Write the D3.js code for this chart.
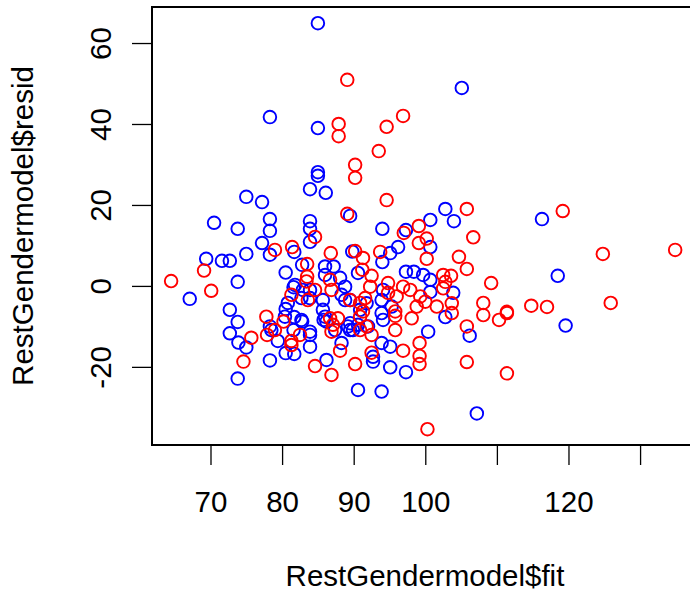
<!DOCTYPE html>
<html>
<head>
<meta charset="utf-8">
<script src="https://cdn.jsdelivr.net/npm/d3@7"></script>
<style>
  body { margin: 0; background: #fff; }
  svg { display: block; }
  text { font-family: "Liberation Sans", Arial, sans-serif; }
</style>
</head>
<body>
<svg id="chart" width="690" height="591"></svg>
<script>
// fitted values / residuals, blue group
var blueFit = [85.0, 105.1, 78.3, 85.0, 85.0, 85.0, 83.9, 86.1, 75.0, 77.2, 102.8, 89.5, 78.3, 116.3, 83.9,
  104.0, 100.7, 70.5, 73.8, 83.9, 94.0, 97.3, 78.3, 83.9, 77.2, 96.2, 100.7, 81.7, 89.8, 95.1,
  78.3, 75.0, 69.4, 71.6, 72.7, 94.0, 82.8, 86.0, 87.2, 90.6, 97.3, 98.4, 80.5, 99.7, 118.5,
  86.0, 88.1, 100.7, 73.8, 81.8, 88.8, 81.6, 82.9, 83.9, 94.1, 103.9, 100.7, 88.3, 82.7, 67.1,
  83.9, 89.5, 85.7, 88.8, 93.9, 80.8, 91.8, 95.3, 80.5, 72.7, 85.7, 90.9, 93.9, 86.0, 80.4,
  81.7, 102.8, 94.1, 82.7, 85.8, 73.8, 82.8, 86.2, 89.5, 90.6, 78.3, 89.2, 92.0, 89.5, 81.6,
  78.5, 87.4, 89.9, 83.9, 100.4, 72.7, 83.9, 106.2, 79.4, 73.9, 88.3, 93.9, 75.0, 83.9, 95.1,
  80.5, 81.7, 92.7, 86.2, 78.3, 92.7, 95.1, 97.3, 73.8, 90.6, 93.9, 107.2, 119.6];
var blueResid = [64.9, 48.9, 41.7, 39.0, 28.1, 27.2, 23.9, 23.0, 22.0, 20.7, 19.0, 17.3, 16.5, 16.5, 16.0,
  16.0, 16.3, 15.6, 14.1, 14.1, 14.1, 13.8, 13.6, 10.9, 10.6, 9.6, 9.6, 8.4, 8.5, 8.1,
  7.7, 7.9, 6.7, 6.2, 6.2, 5.9, 5.2, 4.8, 4.8, 3.2, 3.5, 3.5, 3.3, 2.7, 2.5,
  2.7, 2.0, 1.5, 1.0, 0.25, -0.2, -0.3, -1.0, -1.0, -1.0, -1.7, -1.5, -2.2, -3.0, -3.2,
  -3.0, -3.5, -3.5, -3.5, -3.5, -4.2, -4.3, -5.1, -5.7, -5.9, -5.9, -5.9, -6.7, -7.6, -7.6,
  -7.7, -7.7, -8.4, -8.4, -8.4, -8.9, -8.8, -8.8, -9.2, -9.6, -10.0, -10.0, -10.0, -10.9, -10.9,
  -10.9, -10.9, -10.9, -11.3, -11.3, -11.7, -12.1, -12.3, -13.6, -14.0, -14.1, -14.1, -15.2, -15.0, -15.0,
  -16.6, -16.8, -17.5, -18.3, -18.4, -18.7, -20.1, -21.3, -22.9, -25.7, -26.1, -31.5, -9.8];

// fitted values / residuals, red group
var redFit = [89.1, 96.9, 87.9, 94.6, 87.9, 93.5, 90.2, 90.2, 94.6, 105.8, 119.2, 89.1, 99.1, 97.0, 84.6,
  106.7, 100.2, 99.1, 81.4, 79.0, 90.2, 93.7, 86.8, 124.8, 134.9, 104.7, 91.3, 100.2, 83.5, 91.2,
  105.8, 69.1, 92.5, 102.5, 103.6, 83.5, 86.7, 64.5, 102.8, 83.4, 109.2, 94.8, 92.3, 96.9, 102.5,
  70.1, 97.9, 84.6, 86.9, 94.8, 81.3, 99.3, 96.0, 91.6, 83.6, 89.5, 100.0, 108.1, 90.9, 125.9,
  103.7, 101.6, 98.8, 114.8, 117.0, 95.8, 91.3, 111.4, 111.4, 103.7, 108.1, 95.8, 77.8, 90.9, 98.1,
  87.8, 86.7, 110.3, 80.2, 87.1, 105.8, 91.8, 95.8, 79.0, 90.9, 86.9, 77.9, 82.5, 92.5, 75.7,
  81.3, 99.2, 81.3, 88.1, 96.9, 92.5, 99.2, 74.6, 105.8, 99.2, 90.2, 84.6, 111.4, 86.9, 100.3];
var redResid = [50.9, 42.0, 40.0, 39.3, 37.0, 33.3, 29.9, 26.7, 21.2, 19.0, 18.5, 17.8, 14.8, 13.1, 12.1,
  12.0, 11.7, 10.6, 9.6, 8.9, 8.6, 8.4, 8.1, 7.9, 8.9, 7.2, 6.9, 6.7, 5.4, 4.0,
  4.2, 3.8, 2.5, 2.7, 2.5, 2.3, 1.5, 1.2, 1.0, 1.1, 0.7, 0.7, -0.2, -0.2, -0.6,
  -1.2, -1.0, -1.0, -1.0, -1.7, -2.2, -2.6, -2.6, -3.0, -3.5, -3.5, -3.9, -4.2, -4.2, -4.2,
  -4.3, -5.1, -5.1, -4.9, -5.2, -6.3, -6.3, -6.4, -6.7, -6.7, -7.2, -7.4, -7.6, -7.6, -8.0,
  -8.0, -8.0, -8.4, -8.8, -9.6, -10.0, -10.0, -10.9, -10.9, -10.9, -11.3, -12.1, -12.1, -12.1, -12.8,
  -13.6, -14.1, -14.6, -16.0, -16.0, -16.5, -17.3, -18.7, -18.8, -19.3, -19.3, -19.8, -21.6, -22.0, -35.4];

var xTicks = [70, 80, 90, 100, 110, 120, 130];
var xLabels = ['70', '80', '90', '100', '', '120', ''];
var yTicks = [-20, 0, 20, 40, 60];
var yLabels = ['-20', '0', '20', '40', '60'];
var xTitle = 'RestGendermodel$fit';
var yTitle = 'RestGendermodel$resid';

(function () {
  var svg = d3.select('#chart');
  var plotLeft = 152, plotRight = 698, plotTop = 7, plotBottom = 445;

  var x = d3.scaleLinear().domain([61.83, 138.09]).range([plotLeft, plotRight]);
  var y = d3.scaleLinear().domain([-39.3, 68.9]).range([plotBottom, plotTop]);

  // Points ----------------------- //
  function drawPoints(fit, resid, colour) {
    svg.append('g')
      .selectAll('circle')
      .data(d3.zip(fit, resid))
      .enter()
      .append('circle')
      .attr('cx', function (d) { return x(d[0]); })
      .attr('cy', function (d) { return y(d[1]); })
      .attr('r', 6.3)
      .style('fill', 'none')
      .style('stroke', colour)
      .style('stroke-width', 1.9);
  }
  drawPoints(blueFit, blueResid, '#0000ff');
  drawPoints(redFit, redResid, '#ff0000');

  // Box -------------------------- //
  svg.append('rect')
    .attr('x', plotLeft).attr('y', plotTop)
    .attr('width', plotRight - plotLeft + 10).attr('height', plotBottom - plotTop)
    .style('fill', 'none')
    .style('stroke', '#000')
    .style('stroke-width', 2);

  // Axes ------------------------- //
  var xAxis = svg.append('g')
    .attr('transform', 'translate(0,' + plotBottom + ')')
    .call(d3.axisBottom(x).tickValues(xTicks).tickSize(20).tickSizeOuter(0)
      .tickFormat(function (d, i) { return xLabels[i]; }));
  xAxis.select('.domain').remove();
  xAxis.selectAll('line').style('stroke', '#000').style('stroke-width', 1.3);
  xAxis.selectAll('text')
    .attr('y', 0).attr('dy', null)
    .attr('transform', 'translate(0,67)')
    .style('font-size', '29.5px')
    .style('fill', '#000');

  var yAxis = svg.append('g')
    .attr('transform', 'translate(' + plotLeft + ',0)')
    .call(d3.axisLeft(y).tickValues(yTicks).tickSize(20).tickSizeOuter(0)
      .tickFormat(function (d, i) { return yLabels[i]; }));
  yAxis.select('.domain').remove();
  yAxis.selectAll('line').style('stroke', '#000').style('stroke-width', 1.3);
  yAxis.selectAll('text')
    .attr('x', 0).attr('dy', null)
    .attr('transform', 'translate(-41,0) rotate(-90)')
    .style('text-anchor', 'middle')
    .style('font-size', '29.5px')
    .style('fill', '#000');

  // Titles ----------------------- //
  svg.append('text')
    .attr('x', (plotLeft + plotRight) / 2)
    .attr('y', 586)
    .attr('text-anchor', 'middle')
    .style('font-size', '29.5px')
    .text(xTitle);

  svg.append('text')
    .attr('transform', 'translate(33,' + (plotTop + plotBottom) / 2 + ') rotate(-90)')
    .attr('text-anchor', 'middle')
    .style('font-size', '29.5px')
    .text(yTitle);
})();
</script>
</body>
</html>
